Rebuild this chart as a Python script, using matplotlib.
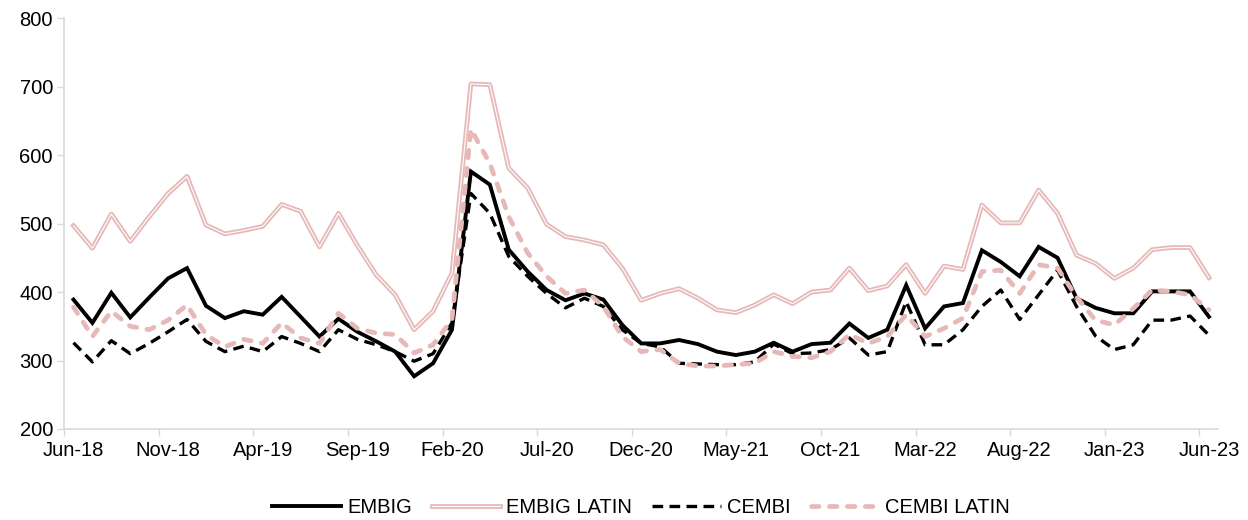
import numpy as np
import matplotlib
matplotlib.use('Agg')
import matplotlib.pyplot as plt
from matplotlib.legend_handler import HandlerTuple

plt.rcParams['font.family'] = ['Liberation Sans', 'DejaVu Sans']

# fechas mensuales jun-18 .. jun-23
meses = ['Jun', 'Jul', 'Aug', 'Sep', 'Oct', 'Nov', 'Dec', 'Jan', 'Feb', 'Mar', 'Apr', 'May']
fechas = []
for k in range(61):
    a = 18 + (5 + k) // 12
    fechas.append(meses[k % 12] + '-' + str(a))

embig = [389, 355, 399, 363, 392, 420, 435, 380, 362, 372,
         367, 393, 364, 335, 361, 342, 328, 313, 277, 296,
         345, 576, 557, 462, 430, 403, 388, 398, 389, 352,
         325, 325, 330, 324, 313, 308, 313, 326, 313, 324,
         326, 354, 333, 345, 410, 347, 379, 384, 461, 444,
         423, 466, 450, 391, 377, 369, 369, 401, 401, 401, 364]

embig_latin = [497, 464, 514, 474, 510, 544, 569, 498, 485, 490,
               496, 528, 518, 466, 515, 468, 425, 396, 345, 372,
               428, 704, 703, 581, 552, 499, 481, 476, 469, 435,
               388, 398, 405, 391, 374, 370, 381, 396, 383, 400,
               403, 435, 402, 409, 440, 398, 438, 433, 527, 501,
               501, 549, 515, 454, 442, 420, 435, 462, 465, 465, 421]

cembi = [326, 298, 329, 310, 325, 342, 360, 328, 313, 321,
         313, 335, 325, 313, 345, 331, 323, 313, 299, 310,
         355, 544, 515, 452, 423, 398, 377, 391, 379, 345,
         325, 320, 296, 295, 294, 294, 298, 324, 310, 311,
         316, 333, 308, 313, 386, 323, 323, 345, 379, 403,
         360, 396, 432, 379, 336, 316, 323, 359, 359, 365, 337]

cembi_latin = [378, 335, 372, 350, 345, 359, 381, 338, 320, 331,
               325, 355, 333, 325, 369, 347, 340, 338, 311, 323,
               360, 638, 588, 510, 457, 423, 398, 403, 379, 335,
               313, 316, 296, 292, 292, 294, 296, 313, 306, 304,
               313, 338, 325, 335, 367, 335, 347, 362, 430, 432,
               398, 440, 435, 393, 359, 352, 376, 403, 401, 396, 374]

rosa = '#e6b9b8'
gris = '#d9d9d9'

x = np.arange(len(fechas))

fig = plt.figure(figsize=(12.48, 5.2), dpi=100)
ax = fig.add_axes([0.0513, 0.175, 0.925, 0.79])

l1, = ax.plot(x, embig, color='black', lw=2.8, solid_joinstyle='miter', zorder=3)
l2a, = ax.plot(x, embig_latin, color=rosa, lw=3.4, zorder=4)
l2b, = ax.plot(x, embig_latin, color='white', lw=0.8, zorder=5)
l3, = ax.plot(x, cembi, color='black', lw=2.4, ls=(0, (3.2, 1.9)), zorder=6)
l4, = ax.plot(x, cembi_latin, color=rosa, lw=3.4, ls=(0, (1.6, 2.2)),
              dash_capstyle='round', zorder=7)

ax.set_xlim(-0.5, 60.5)
ax.set_ylim(200, 800)
ax.set_yticks(np.arange(200, 801, 100))

ax.set_xticks(np.arange(-0.5, 60, 5))
ax.set_xticklabels([])
ax.set_xticks(np.arange(0, 61, 5), minor=True)
ax.set_xticklabels([fechas[i] for i in range(0, 61, 5)], minor=True)

ax.tick_params(axis='x', which='major', length=5, color=gris, width=1)
ax.tick_params(axis='x', which='minor', length=0, pad=9, labelsize=14.5)
ax.tick_params(axis='y', length=5, color=gris, width=1, labelsize=14.5, pad=3)

for s in ['top', 'right']:
    ax.spines[s].set_visible(False)
for s in ['left', 'bottom']:
    ax.spines[s].set_color(gris)
    ax.spines[s].set_linewidth(1.2)

ax.legend([l1, (l2a, l2b), l3, l4], ['EMBIG', 'EMBIG LATIN', 'CEMBI', 'CEMBI LATIN'],
          handler_map={tuple: HandlerTuple(ndivide=1)},
          loc='center', bbox_to_anchor=(0.5, -0.19), ncol=4, frameon=False,
          fontsize=14.5, handlelength=3.4, columnspacing=1.0, handletextpad=0.3,
          borderpad=0.2)

fig.savefig('out.png', dpi=100)
